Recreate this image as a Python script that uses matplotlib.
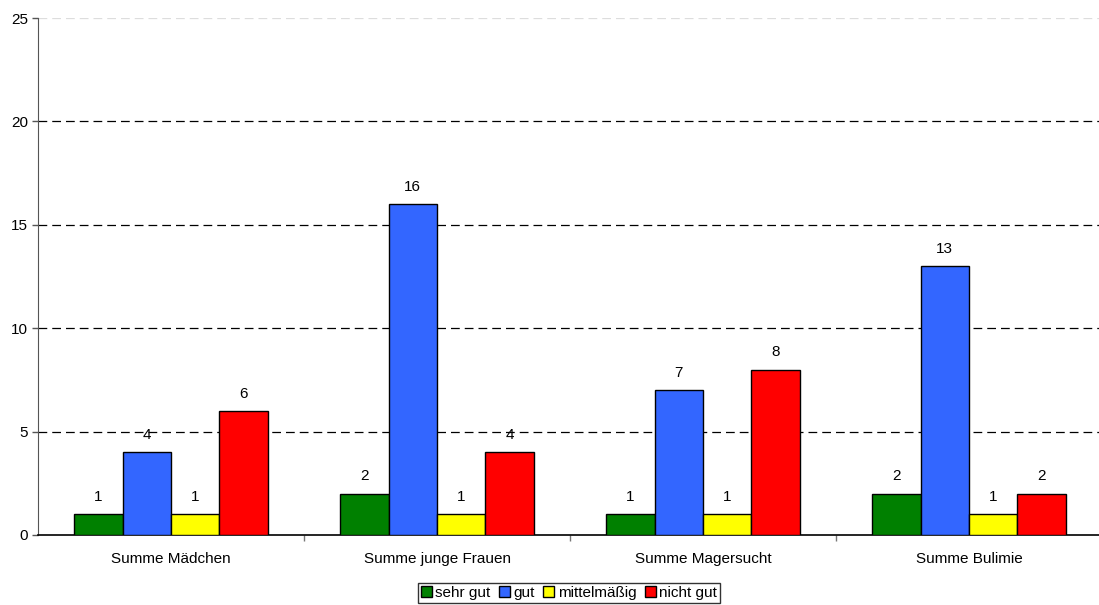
import numpy as np
import matplotlib
matplotlib.use("Agg")
import matplotlib.pyplot as plt
from matplotlib.ticker import FixedLocator, NullFormatter

plt.rcParams['font.family'] = ['Liberation Sans', 'DejaVu Sans']

categories = ["Summe Mädchen", "Summe junge Frauen", "Summe Magersucht", "Summe Bulimie"]
series_names = ["sehr gut", "gut", "mittelmäßig", "nicht gut"]
sehr_gut = [1, 2, 1, 2]
gut = [4, 16, 7, 13]
mittelmaessig = [1, 1, 1, 1]
nicht_gut = [6, 4, 8, 2]
y_ticks = [0, 5, 10, 15, 20, 25]

series = [sehr_gut, gut, mittelmaessig, nicht_gut]
colors = ["#008000", "#3366FF", "#FFFF00", "#FF0000"]
fs = 11

fig = plt.figure(figsize=(10.99, 6.05), dpi=100)
ax = fig.add_axes([38 / 1099, 1 - 535 / 605, 1064 / 1099, (535 - 18) / 605])

n = len(series)
bar_w = 1.0 / (n + 1.5)
x = np.arange(len(categories))
for i, (vals, col, name) in enumerate(zip(series, colors, series_names)):
    pos = x + (i - (n - 1) / 2) * bar_w
    bars = ax.bar(pos, vals, width=bar_w, color=col, edgecolor="black",
                  linewidth=1.0, label=name, zorder=3)
    for b, v in zip(bars, vals):
        ax.text(b.get_x() + b.get_width() / 2, v + 0.5, str(v),
                ha="center", va="bottom", fontsize=fs, color="black")

ax.set_xlim(-0.5, len(categories) - 0.5)
ax.set_ylim(0, 25)
ax.set_yticks(y_ticks)
ax.tick_params(axis="y", direction="out", length=4, width=1, colors="#555555",
               labelcolor="black", labelsize=fs, pad=3)

# category labels centered, tick marks at group boundaries
ax.xaxis.set_major_locator(FixedLocator(x[:-1] + 0.5))
ax.xaxis.set_major_formatter(NullFormatter())
ax.xaxis.set_minor_locator(FixedLocator(x))
ax.set_xticklabels(categories, minor=True)
ax.tick_params(axis="x", which="major", direction="out", length=4, width=1,
               colors="#777777")
ax.tick_params(axis="x", which="minor", length=0, labelsize=fs, pad=12,
               labelcolor="black")

for y in y_ticks[1:]:
    ax.axhline(y, color="#dddddd" if y == 25 else "black", linestyle=(0, (7, 4)),
               linewidth=0.9, zorder=1)

for s in ["top", "right"]:
    ax.spines[s].set_visible(False)
ax.spines["left"].set_color("#555555")
ax.spines["bottom"].set_color("black")
ax.spines["bottom"].set_linewidth(1.2)

leg = fig.legend(loc="lower center", bbox_to_anchor=(569 / 1099, 0.0), ncol=4,
                 frameon=True, fancybox=False, edgecolor="black", fontsize=fs,
                 handlelength=0.7, handleheight=0.7, handletextpad=0.25,
                 columnspacing=0.55, borderpad=0.2, borderaxespad=0.15)
leg.get_frame().set_linewidth(1.0)

fig.savefig("out.png", dpi=100, facecolor="white")
